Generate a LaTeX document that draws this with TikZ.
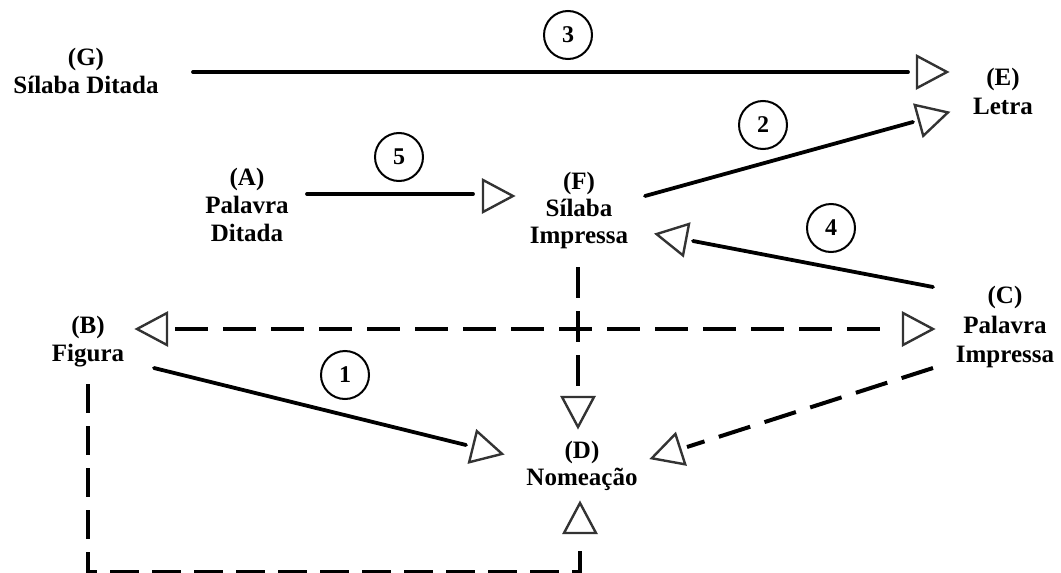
\documentclass[tikz,border=0pt]{standalone}
\usepackage{fontspec}
\setmainfont{Liberation Serif}
\tikzset{
  lbl/.style={align=center, inner sep=0pt, anchor=north, font=\fontsize{25}{28}\selectfont\bfseries},
  num/.style={circle, draw=black, line width=2pt, minimum size=48pt, inner sep=0pt, font=\fontsize{24}{24}\selectfont\bfseries},
  solidcon/.style={line width=3.8pt, line cap=round},
  dashcon/.style={line width=4pt, dash pattern=on 33pt off 15pt},
  vdashcon/.style={line width=4pt, dash pattern=on 31pt off 13pt},
  loopcon/.style={line width=4.2pt, dash pattern=on 29pt off 13pt},
  tri/.pic={\draw[line width=2.4pt, draw=black!80, line join=miter] (0,-16) -- (30,0) -- (0,16) -- cycle;}
}
\begin{document}
\begin{tikzpicture}[x=1pt,y=-1pt]
\useasboundingbox (0,0) rectangle (1061,573);
% labels
\node[lbl] (G) at (86,48) {(G)\\Sílaba Ditada};
\node[lbl] (A) at (247,168) {(A)\\Palavra\\Ditada};
\node[lbl, font=\fontsize{25}{27}\selectfont\bfseries] (F) at (579,172) {(F)\\Sílaba\\Impressa};
\node[lbl, font=\fontsize{25}{29}\selectfont\bfseries] (E) at (1003,68) {(E)\\Letra};
\node[lbl] (B) at (88,316) {(B)\\Figura};
\node[lbl, font=\fontsize{25}{29.5}\selectfont\bfseries] (C) at (1005,286) {(C)\\Palavra\\Impressa};
\node[lbl, font=\fontsize{25}{27}\selectfont\bfseries] (D) at (582,441) {(D)\\Nomeação};
% numbered circles
\node[num] (n3) at (568,35) {3};
\node[num] (n5) at (399,157) {5};
\node[num] (n2) at (763,125) {2};
\node[num] (n4) at (831,228) {4};
\node[num] (n1) at (345,375) {1};
% connector end points
\coordinate (gE0) at (193,72);   \coordinate (gE1) at (908,72);   \coordinate (tgE) at (917,72);
\coordinate (fE0) at (645,196);  \coordinate (fE1) at (913,122);  \coordinate (tfE) at (919,120.4);
\coordinate (aF0) at (307,194);  \coordinate (aF1) at (473,194);  \coordinate (taF) at (483,196);
\coordinate (cF0) at (933,287);  \coordinate (cF1) at (693,241);  \coordinate (tcF) at (686,239.7);
\coordinate (bD0) at (154,368);  \coordinate (bD1) at (466,445);  \coordinate (tbD) at (473,446.7);
\coordinate (bc0) at (175,329);  \coordinate (bc1) at (893,329);
\coordinate (tcB) at (167,329);  \coordinate (tcC) at (903,329);
\coordinate (fD0) at (578,267);  \coordinate (fD1) at (578,387);  \coordinate (tfD) at (578,397);
\coordinate (cD0) at (933,368);  \coordinate (cD1) at (687,447);  \coordinate (tcD) at (680.3,449.1);
\coordinate (lp0) at (88,384);   \coordinate (lp1) at (88,572);   \coordinate (lp2) at (580,572);
\coordinate (lp3) at (580,542);  \coordinate (tlp) at (580,533);
% solid connectors
\draw[solidcon] (gE0) -- (gE1);  \pic[rotate=0] at (tgE) {tri};
\draw[solidcon] (fE0) -- (fE1);  \pic[rotate=15.4] at (tfE) {tri};
\draw[solidcon] (aF0) -- (aF1);  \pic[rotate=0] at (taF) {tri};
\draw[solidcon] (cF0) -- (cF1);  \pic[rotate=169.2] at (tcF) {tri};
\draw[solidcon] (bD0) -- (bD1);  \pic[rotate=-13.9] at (tbD) {tri};
% dashed connectors
\draw[dashcon] (bc0) -- (bc1);
\pic[rotate=180] at (tcB) {tri};
\pic[rotate=0] at (tcC) {tri};
\draw[vdashcon] (fD0) -- (fD1);  \pic[rotate=-90] at (tfD) {tri};
\draw[dashcon] (cD0) -- (cD1);   \pic[rotate=-162.2] at (tcD) {tri};
\draw[loopcon] (lp0) -- (lp1) -- (lp2) -- (lp3);  \pic[rotate=90] at (tlp) {tri};
\end{tikzpicture}
\end{document}
